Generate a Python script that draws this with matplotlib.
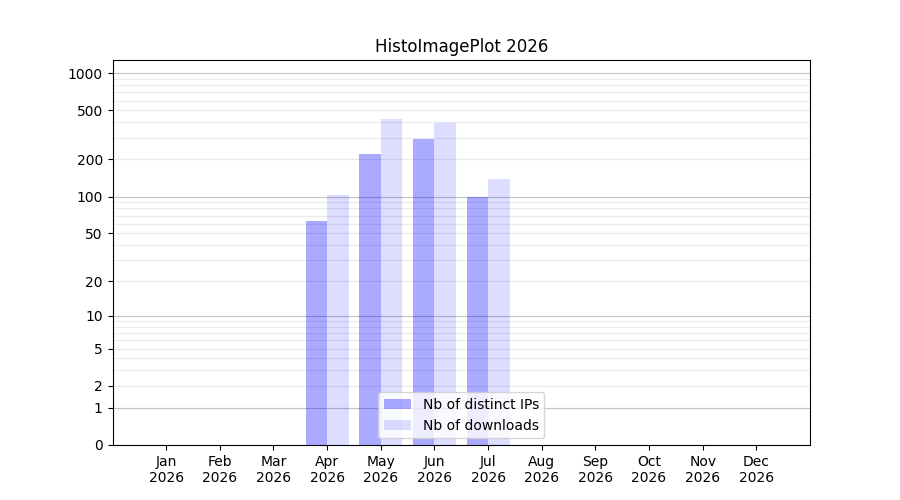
import numpy as np
import matplotlib
matplotlib.use("Agg")
import matplotlib.pyplot as plt
from matplotlib.ticker import FixedLocator, FixedFormatter

months = ["Jan", "Feb", "Mar", "Apr", "May", "Jun", "Jul", "Aug", "Sep", "Oct", "Nov", "Dec"]
year = "2026"
distinct_ips = [0, 0, 0, 63, 221, 293, 100, 0, 0, 0, 0, 0]
downloads = [0, 0, 0, 102, 425, 394, 139, 0, 0, 0, 0, 0]
ytick_values = [0, 1, 2, 5, 10, 20, 50, 100, 200, 500, 1000]

fig, ax = plt.subplots(figsize=(9, 5), dpi=100)

def fwd(y):
    y = np.asarray(y, dtype=float)
    return np.log10(1 + np.clip(y, -0.999999, None))

def inv(y):
    return 10 ** np.asarray(y, dtype=float) - 1

ax.set_yscale("function", functions=(fwd, inv))

x = np.arange(1, 13)
w = 0.4
ax.bar(x, distinct_ips, width=-w, align="edge", color=(0, 0, 1, 0.333), label="Nb of distinct IPs", zorder=2)
ax.bar(x, downloads, width=w, align="edge", color=(0, 0, 1, 0.135), label="Nb of downloads", zorder=2)

ax.set_xlim(0, 13)
ax.set_ylim(0, 1275)
ax.set_xticks(x)
ax.set_xticklabels([f"{m}\n{year}" for m in months])

ax.yaxis.set_major_locator(FixedLocator(ytick_values))
ax.yaxis.set_major_formatter(FixedFormatter([str(v) for v in ytick_values]))
minors = [m * d for d in (1, 10, 100, 1000) for m in range(1, 10) if m * d <= 1275]
ax.yaxis.set_minor_locator(FixedLocator(minors))
ax.tick_params(axis="y", which="minor", length=0)

ax.set_axisbelow(True)
ax.grid(True, axis="y", which="both", color="#ebebeb", linewidth=0.8, zorder=0)
for d in (1, 10, 100, 1000):
    ax.axhline(d, color="#c4c4c4", linewidth=0.8, zorder=1)

ax.set_title("HistoImagePlot " + year)
ax.legend(loc="lower center")

fig.savefig("out.png", dpi=100)
